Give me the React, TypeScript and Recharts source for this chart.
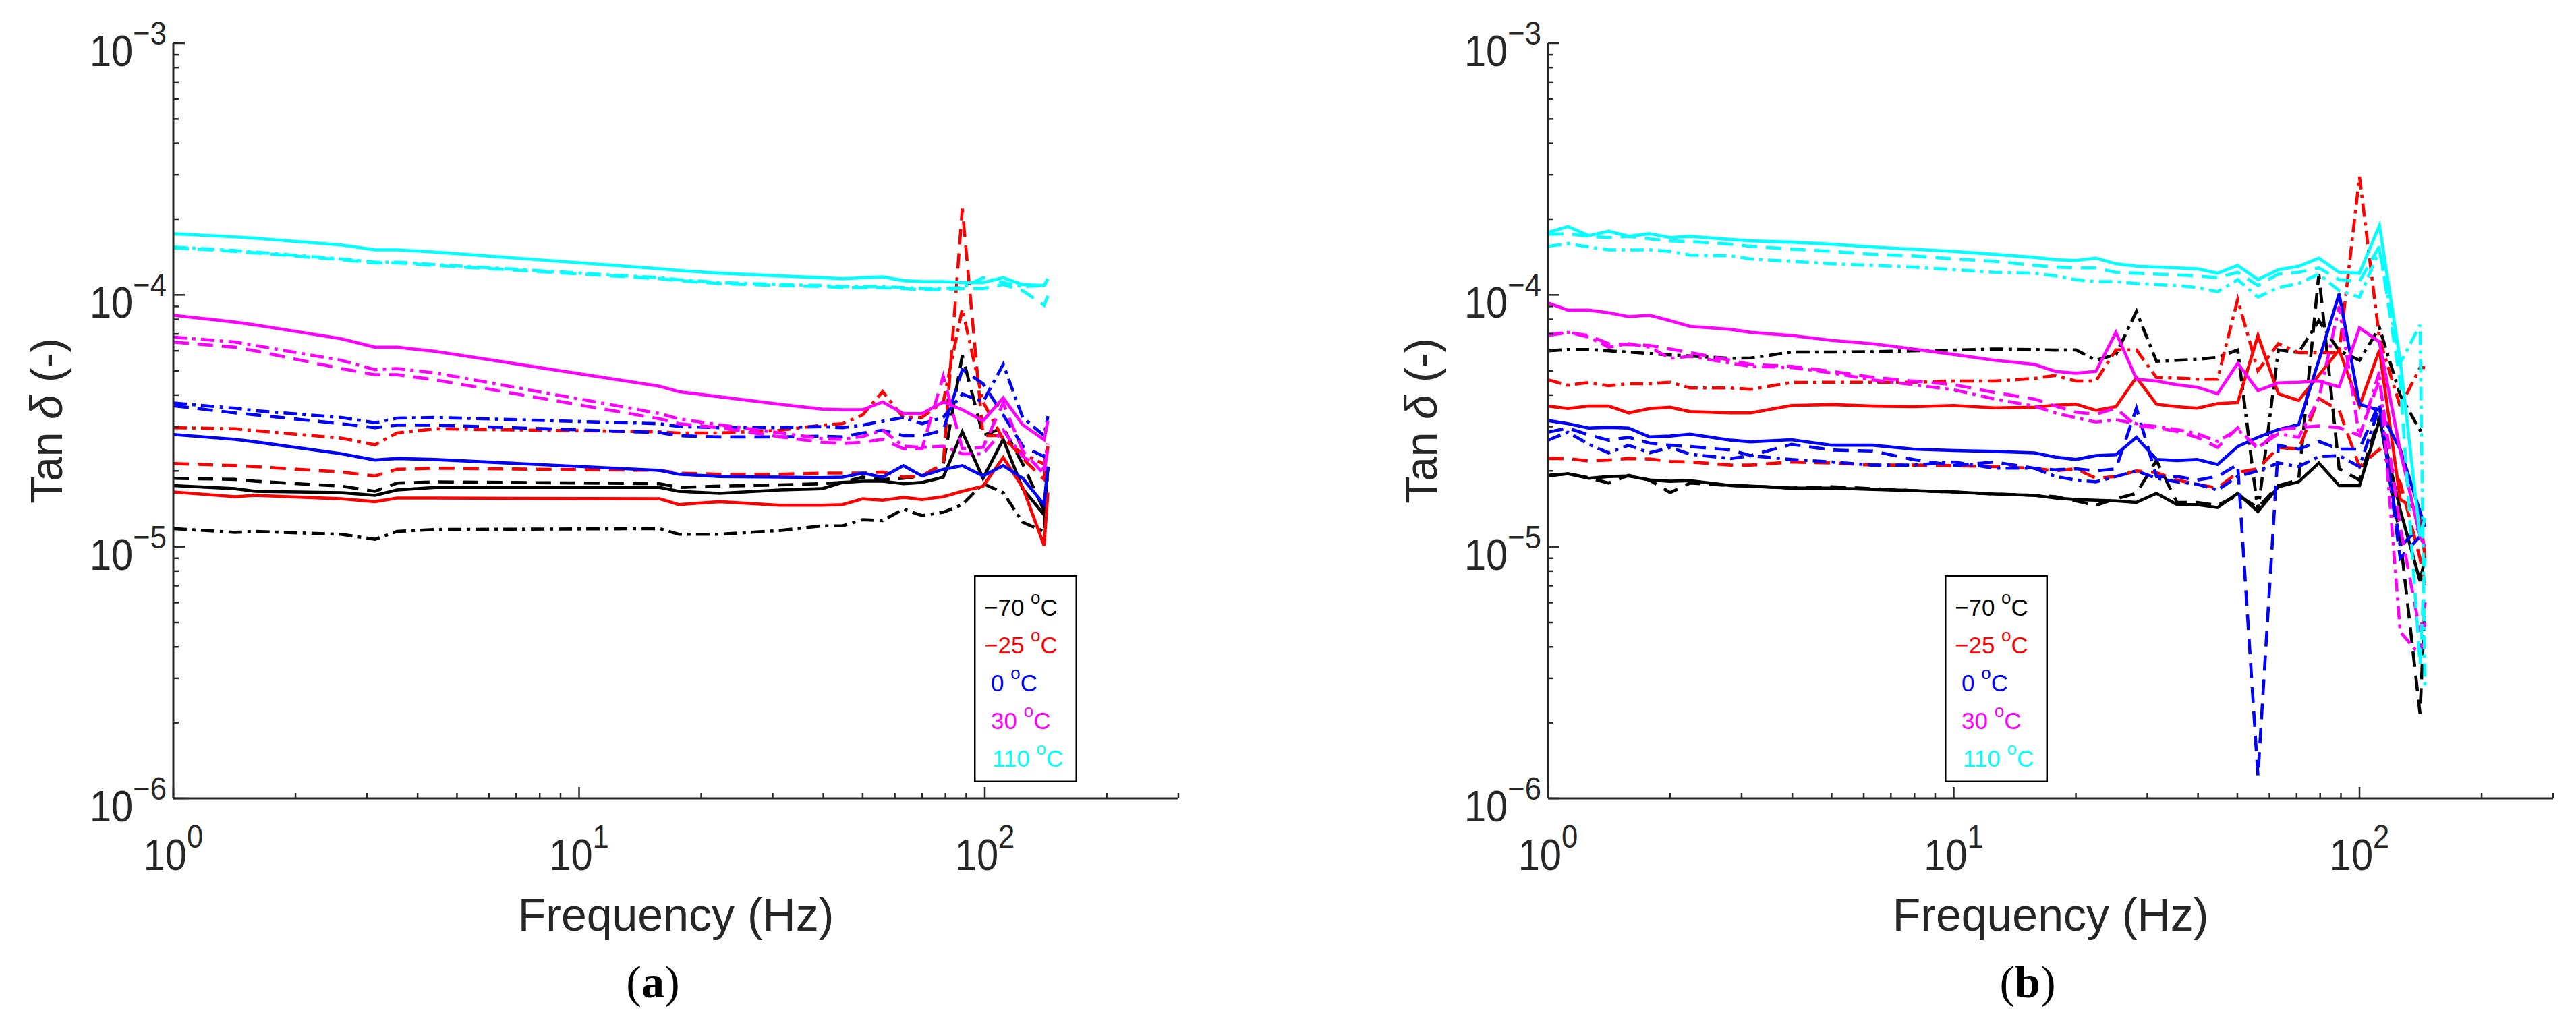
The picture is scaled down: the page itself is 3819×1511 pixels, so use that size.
import React from 'react'
import { LineChart, Line, XAxis, YAxis, Legend } from 'recharts'

// frequencies (Hz)
const freqA = [1, 1.42, 1.59, 2.59, 3.14, 3.56, 4.42, 15.8, 17.6, 22.2, 31.3, 39.7, 44.6, 50, 56, 63, 70, 79, 88, 99, 111, 124, 140, 143]
const freqB = [1, 1.12, 1.26, 1.41, 1.58, 1.78, 2, 2.24, 2.82, 3.16, 3.98, 5.01, 6.31, 7.94, 10, 12.6, 15.8, 17.8, 20, 22.4, 25.1, 28.2, 31.6, 35.5, 39.8, 44.7, 50.1, 56.2, 63.1, 70.8, 79.4, 89.1, 100, 112, 126, 141, 145]

// panel (a) tan delta
const aBlackSolid = [1.75e-5, 1.7e-5, 1.66e-5, 1.64e-5, 1.6e-5, 1.68e-5, 1.72e-5, 1.72e-5, 1.66e-5, 1.63e-5, 1.68e-5, 1.7e-5, 1.8e-5, 1.82e-5, 1.82e-5, 1.78e-5, 1.8e-5, 1.89e-5, 2.86e-5, 1.87e-5, 2.67e-5, 1.7e-5, 1.34e-5, 2.08e-5]
const aBlackDash = [1.87e-5, 1.85e-5, 1.82e-5, 1.74e-5, 1.66e-5, 1.79e-5, 1.81e-5, 1.78e-5, 1.72e-5, 1.74e-5, 1.76e-5, 1.78e-5, 1.8e-5, 1.89e-5, 1.85e-5, 1.87e-5, 1.91e-5, 2.13e-5, 5.75e-5, 2.76e-5, 2.97e-5, 2.13e-5, 1.39e-5, 2.08e-5]
const aBlackDashDot = [1.18e-5, 1.14e-5, 1.15e-5, 1.12e-5, 1.07e-5, 1.15e-5, 1.17e-5, 1.18e-5, 1.12e-5, 1.12e-5, 1.16e-5, 1.21e-5, 1.21e-5, 1.28e-5, 1.27e-5, 1.41e-5, 1.33e-5, 1.37e-5, 1.47e-5, 1.78e-5, 1.64e-5, 1.25e-5, 1.15e-5, 2.08e-5]
const aRedSolid = [1.65e-5, 1.58e-5, 1.6e-5, 1.55e-5, 1.51e-5, 1.56e-5, 1.56e-5, 1.55e-5, 1.47e-5, 1.51e-5, 1.46e-5, 1.46e-5, 1.47e-5, 1.55e-5, 1.53e-5, 1.57e-5, 1.54e-5, 1.58e-5, 1.66e-5, 1.74e-5, 2.26e-5, 1.72e-5, 1.01e-5, 1.64e-5]
const aRedDash = [2.14e-5, 2.1e-5, 2.08e-5, 1.98e-5, 1.91e-5, 2.03e-5, 2.05e-5, 2.01e-5, 1.96e-5, 1.94e-5, 1.94e-5, 1.96e-5, 1.96e-5, 1.96e-5, 1.98e-5, 1.89e-5, 1.91e-5, 2.13e-5, 2.2e-4, 2.76e-5, 2.76e-5, 2.24e-5, 1.85e-5, 2.51e-5]
const aRedDashDot = [2.97e-5, 2.94e-5, 2.89e-5, 2.7e-5, 2.54e-5, 2.83e-5, 2.94e-5, 2.86e-5, 2.83e-5, 2.83e-5, 2.9e-5, 3.04e-5, 3.08e-5, 3.34e-5, 4.13e-5, 3.26e-5, 3.26e-5, 3.76e-5, 8.8e-5, 3.76e-5, 2.67e-5, 2.34e-5, 2.13e-5, 2.54e-5]
const aBlueSolid = [2.79e-5, 2.67e-5, 2.61e-5, 2.34e-5, 2.21e-5, 2.24e-5, 2.22e-5, 2.01e-5, 1.94e-5, 1.9e-5, 1.89e-5, 1.88e-5, 1.89e-5, 1.96e-5, 1.89e-5, 2.1e-5, 1.91e-5, 2.03e-5, 2.1e-5, 1.91e-5, 2.1e-5, 1.87e-5, 1.47e-5, 2.08e-5]
const aBlueDash = [3.63e-5, 3.4e-5, 3.34e-5, 3.08e-5, 2.97e-5, 3.04e-5, 3.04e-5, 2.84e-5, 2.76e-5, 2.73e-5, 2.73e-5, 2.75e-5, 2.73e-5, 2.83e-5, 2.9e-5, 2.76e-5, 2.76e-5, 2.9e-5, 5.05e-5, 4.44e-5, 3.34e-5, 2.51e-5, 2.28e-5, 2.51e-5]
const aBlueDashDot = [3.72e-5, 3.55e-5, 3.47e-5, 3.26e-5, 3.11e-5, 3.24e-5, 3.26e-5, 3.08e-5, 3.0e-5, 2.97e-5, 2.97e-5, 3.0e-5, 2.97e-5, 3.04e-5, 3.15e-5, 3.26e-5, 3.08e-5, 3.26e-5, 4.04e-5, 3.76e-5, 5.3e-5, 3.26e-5, 2.76e-5, 3.3e-5]
const aMagentaSolid = [8.3e-5, 7.8e-5, 7.6e-5, 6.7e-5, 6.2e-5, 6.2e-5, 5.97e-5, 4.34e-5, 4.13e-5, 3.94e-5, 3.68e-5, 3.52e-5, 3.5e-5, 3.5e-5, 3.76e-5, 3.38e-5, 3.38e-5, 3.76e-5, 3.5e-5, 3.16e-5, 3.9e-5, 3.05e-5, 2.66e-5, 3.16e-5]
const aMagentaDash = [6.5e-5, 6.2e-5, 6.0e-5, 5.1e-5, 4.82e-5, 4.82e-5, 4.6e-5, 3.22e-5, 3.08e-5, 2.97e-5, 2.73e-5, 2.6e-5, 2.57e-5, 2.6e-5, 2.67e-5, 2.45e-5, 2.45e-5, 4.76e-5, 2.45e-5, 2.48e-5, 3.72e-5, 2.4e-5, 1.94e-5, 2.51e-5]
const aMagentaDashDot = [6.8e-5, 6.5e-5, 6.3e-5, 5.5e-5, 5.05e-5, 5.1e-5, 4.9e-5, 3.38e-5, 3.22e-5, 3.05e-5, 2.83e-5, 2.69e-5, 2.67e-5, 2.74e-5, 2.9e-5, 2.51e-5, 2.48e-5, 2.51e-5, 2.34e-5, 2.34e-5, 2.9e-5, 2.28e-5, 2.03e-5, 2.57e-5]
const aCyanSolid = [1.75e-4, 1.7e-4, 1.68e-4, 1.58e-4, 1.51e-4, 1.51e-4, 1.48e-4, 1.27e-4, 1.25e-4, 1.22e-4, 1.19e-4, 1.17e-4, 1.16e-4, 1.17e-4, 1.18e-4, 1.14e-4, 1.13e-4, 1.13e-4, 1.12e-4, 1.12e-4, 1.17e-4, 1.1e-4, 1.09e-4, 1.16e-4]
const aCyanDash = [1.54e-4, 1.49e-4, 1.47e-4, 1.38e-4, 1.34e-4, 1.34e-4, 1.31e-4, 1.16e-4, 1.14e-4, 1.11e-4, 1.09e-4, 1.08e-4, 1.07e-4, 1.07e-4, 1.07e-4, 1.06e-4, 1.05e-4, 1.05e-4, 1.06e-4, 1.06e-4, 1.1e-4, 1.04e-4, 9.1e-5, 9.9e-5]
const aCyanDashDot = [1.55e-4, 1.5e-4, 1.48e-4, 1.39e-4, 1.35e-4, 1.35e-4, 1.32e-4, 1.17e-4, 1.15e-4, 1.12e-4, 1.1e-4, 1.09e-4, 1.08e-4, 1.08e-4, 1.08e-4, 1.07e-4, 1.06e-4, 1.06e-4, 1.07e-4, 1.17e-4, 1.12e-4, 1.08e-4, 1.09e-4, 1.16e-4]

// panel (b) tan delta
const bBlackSolid = [1.91e-5, 1.95e-5, 1.87e-5, 1.9e-5, 1.91e-5, 1.84e-5, 1.82e-5, 1.83e-5, 1.75e-5, 1.74e-5, 1.71e-5, 1.71e-5, 1.69e-5, 1.67e-5, 1.65e-5, 1.62e-5, 1.6e-5, 1.56e-5, 1.54e-5, 1.53e-5, 1.52e-5, 1.5e-5, 1.63e-5, 1.47e-5, 1.47e-5, 1.43e-5, 1.63e-5, 1.38e-5, 1.73e-5, 1.81e-5, 2.15e-5, 1.75e-5, 1.75e-5, 3.2e-5, 1.4e-5, 7.3e-6, 9e-6]
const bBlackDash = [1.92e-5, 1.95e-5, 1.88e-5, 1.79e-5, 1.92e-5, 1.84e-5, 1.64e-5, 1.79e-5, 1.75e-5, 1.74e-5, 1.71e-5, 1.73e-5, 1.7e-5, 1.67e-5, 1.65e-5, 1.62e-5, 1.6e-5, 1.58e-5, 1.52e-5, 1.46e-5, 1.55e-5, 1.63e-5, 2.2e-5, 1.5e-5, 1.5e-5, 1.46e-5, 1.6e-5, 1.43e-5, 1.75e-5, 1.84e-5, 1.21e-4, 2.04e-5, 1.84e-5, 3.3e-5, 1.08e-5, 2.17e-6, 6e-6]
const bBlackDashDot = [6.0e-5, 6.07e-5, 6.07e-5, 6.0e-5, 5.93e-5, 5.85e-5, 5.78e-5, 5.72e-5, 5.6e-5, 5.62e-5, 5.93e-5, 5.93e-5, 5.95e-5, 6.0e-5, 6.04e-5, 6.1e-5, 6.07e-5, 6.04e-5, 6.05e-5, 5.5e-5, 5.8e-5, 8.6e-5, 5.45e-5, 5.5e-5, 5.55e-5, 5.65e-5, 6.05e-5, 1.38e-5, 6.05e-5, 5.9e-5, 7.9e-5, 6.0e-5, 5.5e-5, 7.4e-5, 4.0e-5, 2.9e-5, 3.0e-5]
const bRedSolid = [3.62e-5, 3.54e-5, 3.62e-5, 3.62e-5, 3.4e-5, 3.54e-5, 3.58e-5, 3.44e-5, 3.4e-5, 3.4e-5, 3.64e-5, 3.67e-5, 3.62e-5, 3.6e-5, 3.64e-5, 3.56e-5, 3.58e-5, 3.65e-5, 3.68e-5, 3.48e-5, 3.6e-5, 4.7e-5, 3.68e-5, 3.6e-5, 3.55e-5, 3.7e-5, 3.74e-5, 6.9e-5, 4.05e-5, 3.81e-5, 4.8e-5, 6.05e-5, 3.62e-5, 6.05e-5, 1.54e-5, 1.38e-5, 9e-6]
const bRedDash = [2.24e-5, 2.24e-5, 2.19e-5, 2.21e-5, 2.24e-5, 2.23e-5, 2.18e-5, 2.17e-5, 2.11e-5, 2.11e-5, 2.17e-5, 2.15e-5, 2.11e-5, 2.11e-5, 2.1e-5, 2.08e-5, 2.05e-5, 2.0e-5, 2.04e-5, 1.87e-5, 1.9e-5, 2.0e-5, 1.97e-5, 1.84e-5, 1.77e-5, 1.71e-5, 1.97e-5, 2.04e-5, 2.48e-5, 2.44e-5, 3.88e-5, 3.48e-5, 2.08e-5, 2.44e-5, 1.8e-5, 9e-6, 7e-6]
const bRedDashDot = [4.6e-5, 4.38e-5, 4.49e-5, 4.36e-5, 4.44e-5, 4.44e-5, 4.5e-5, 4.27e-5, 4.27e-5, 4.22e-5, 4.49e-5, 4.5e-5, 4.5e-5, 4.5e-5, 4.55e-5, 4.55e-5, 4.66e-5, 4.79e-5, 4.55e-5, 4.55e-5, 6.05e-5, 6.05e-5, 4.7e-5, 4.68e-5, 4.63e-5, 4.63e-5, 9.6e-5, 5.0e-5, 6.4e-5, 5.9e-5, 5.9e-5, 5.9e-5, 2.95e-4, 6.7e-5, 3.6e-5, 5.15e-5, 5.15e-5]
const bBlueSolid = [3.17e-5, 3.08e-5, 2.96e-5, 2.98e-5, 2.96e-5, 2.73e-5, 2.75e-5, 2.8e-5, 2.65e-5, 2.61e-5, 2.66e-5, 2.53e-5, 2.53e-5, 2.44e-5, 2.41e-5, 2.39e-5, 2.36e-5, 2.27e-5, 2.22e-5, 2.3e-5, 2.32e-5, 2.72e-5, 2.22e-5, 2.2e-5, 2.22e-5, 2.12e-5, 2.5e-5, 2.72e-5, 2.92e-5, 3.05e-5, 5.5e-5, 1.01e-4, 3.68e-5, 3.48e-5, 2.44e-5, 1.38e-5, 1.2e-5]
const bBlueDash = [2.85e-5, 2.96e-5, 2.78e-5, 2.65e-5, 2.72e-5, 2.58e-5, 2.53e-5, 2.5e-5, 2.42e-5, 2.3e-5, 2.55e-5, 2.42e-5, 2.4e-5, 2.22e-5, 2.1e-5, 2.17e-5, 2.05e-5, 2.02e-5, 2.04e-5, 2.0e-5, 2.04e-5, 3.55e-5, 1.9e-5, 1.9e-5, 1.84e-5, 1.9e-5, 2.12e-5, 1.23e-6, 2.53e-5, 2.44e-5, 2.62e-5, 2.44e-5, 2.44e-5, 3.74e-5, 9e-6, 1.1e-5, 1.2e-5]
const bBlueDashDot = [2.65e-5, 2.85e-5, 2.55e-5, 2.36e-5, 2.53e-5, 2.36e-5, 2.48e-5, 2.33e-5, 2.24e-5, 2.3e-5, 2.22e-5, 2.17e-5, 2.11e-5, 2.11e-5, 2.17e-5, 2.05e-5, 2.05e-5, 1.9e-5, 1.84e-5, 1.81e-5, 1.9e-5, 2.0e-5, 1.87e-5, 1.81e-5, 1.77e-5, 1.68e-5, 1.9e-5, 2.0e-5, 2.15e-5, 2.08e-5, 2.28e-5, 2.3e-5, 2.08e-5, 3.6e-5, 1.0e-5, 1.2e-5, 1.3e-5]
const bMagentaSolid = [9.3e-5, 8.7e-5, 8.7e-5, 8.5e-5, 8.2e-5, 8.3e-5, 7.9e-5, 7.5e-5, 7.3e-5, 7.1e-5, 6.9e-5, 6.6e-5, 6.4e-5, 6.1e-5, 5.8e-5, 5.5e-5, 5.3e-5, 4.97e-5, 4.89e-5, 4.97e-5, 7.1e-5, 4.63e-5, 4.55e-5, 4.4e-5, 4.3e-5, 4.05e-5, 5.35e-5, 4.17e-5, 4.47e-5, 4.5e-5, 4.55e-5, 4.31e-5, 7.4e-5, 6.5e-5, 2.4e-5, 1.1e-5, 1.0e-5]
const bMagentaDash = [6.9e-5, 7.1e-5, 6.9e-5, 6.4e-5, 6.35e-5, 6.3e-5, 6.1e-5, 5.9e-5, 5.5e-5, 5.3e-5, 5.2e-5, 4.97e-5, 4.71e-5, 4.55e-5, 4.4e-5, 4.1e-5, 3.86e-5, 3.62e-5, 3.42e-5, 3.36e-5, 3.55e-5, 3.02e-5, 2.97e-5, 2.87e-5, 2.72e-5, 2.48e-5, 2.97e-5, 2.44e-5, 2.92e-5, 2.97e-5, 3.02e-5, 2.97e-5, 2.77e-5, 4.6e-5, 1.2e-5, 4.6e-6, 6e-6]
const bMagentaDashDot = [6.98e-5, 7.1e-5, 6.8e-5, 6.2e-5, 6.4e-5, 6.2e-5, 5.6e-5, 5.7e-5, 5.36e-5, 5.2e-5, 5.15e-5, 4.9e-5, 4.6e-5, 4.4e-5, 4.2e-5, 3.86e-5, 3.62e-5, 3.4e-5, 3.25e-5, 3.13e-5, 3.19e-5, 3.08e-5, 3.0e-5, 2.92e-5, 2.81e-5, 2.62e-5, 2.92e-5, 2.48e-5, 2.81e-5, 2.72e-5, 3.88e-5, 9.0e-5, 2.72e-5, 4.97e-5, 4.6e-6, 3.7e-6, 5e-6]
const bCyanSolid = [1.77e-4, 1.87e-4, 1.72e-4, 1.79e-4, 1.71e-4, 1.75e-4, 1.69e-4, 1.71e-4, 1.66e-4, 1.64e-4, 1.62e-4, 1.59e-4, 1.55e-4, 1.52e-4, 1.49e-4, 1.45e-4, 1.41e-4, 1.38e-4, 1.37e-4, 1.4e-4, 1.33e-4, 1.3e-4, 1.29e-4, 1.28e-4, 1.27e-4, 1.22e-4, 1.31e-4, 1.15e-4, 1.26e-4, 1.3e-4, 1.4e-4, 1.23e-4, 1.22e-4, 1.89e-4, 5.5e-5, 1.1e-5, 1.3e-5]
const bCyanDash = [1.74e-4, 1.75e-4, 1.71e-4, 1.69e-4, 1.71e-4, 1.67e-4, 1.64e-4, 1.63e-4, 1.59e-4, 1.56e-4, 1.52e-4, 1.49e-4, 1.45e-4, 1.43e-4, 1.39e-4, 1.36e-4, 1.31e-4, 1.29e-4, 1.28e-4, 1.28e-4, 1.23e-4, 1.22e-4, 1.21e-4, 1.2e-4, 1.19e-4, 1.17e-4, 1.23e-4, 1.09e-4, 1.21e-4, 1.23e-4, 1.28e-4, 1.15e-4, 1.13e-4, 1.56e-4, 4.5e-5, 3.4e-6, 9e-6]
const bCyanDashDot = [1.56e-4, 1.6e-4, 1.55e-4, 1.51e-4, 1.51e-4, 1.51e-4, 1.49e-4, 1.44e-4, 1.43e-4, 1.39e-4, 1.36e-4, 1.33e-4, 1.31e-4, 1.29e-4, 1.26e-4, 1.23e-4, 1.22e-4, 1.19e-4, 1.15e-4, 1.13e-4, 1.13e-4, 1.11e-4, 1.1e-4, 1.09e-4, 1.07e-4, 1.03e-4, 1.15e-4, 9.8e-5, 1.07e-4, 1.11e-4, 1.21e-4, 1.04e-4, 9.8e-5, 1.5e-4, 5.35e-5, 7.6e-5, 2.8e-6]

// axes
const xTicks = [1, 2, 3, 4, 5, 6, 7, 8, 9, 10, 20, 30, 40, 50, 60, 70, 80, 90, 100, 200, 300]
const yTicks = [
  1e-6, 2e-6, 3e-6, 4e-6, 5e-6, 6e-6, 7e-6, 8e-6, 9e-6,
  1e-5, 2e-5, 3e-5, 4e-5, 5e-5, 6e-5, 7e-5, 8e-5, 9e-5,
  1e-4, 2e-4, 3e-4, 4e-4, 5e-4, 6e-4, 7e-4, 8e-4, 9e-4, 1e-3
]
const legendLabels = ['\u221270', '\u221225', '0', '30', '110']
const colors = ['#000000', '#ff0000', '#0000ff', '#ff00ff', '#00ffff']

const AXIS = '#262626'
const FONT = '"Liberation Sans", Arial, Helvetica, sans-serif'
const DASH: Record<string, string | undefined> = { solid: undefined, dash: '23 13', dashdot: '20 8 5 8' }

type Series = { key: string; values: number[]; color: string; style: string }

const seriesA: Series[] = [
  { key: 'ks', values: aBlackSolid, color: colors[0], style: 'solid' },
  { key: 'kd', values: aBlackDash, color: colors[0], style: 'dash' },
  { key: 'kdd', values: aBlackDashDot, color: colors[0], style: 'dashdot' },
  { key: 'rs', values: aRedSolid, color: colors[1], style: 'solid' },
  { key: 'rd', values: aRedDash, color: colors[1], style: 'dash' },
  { key: 'rdd', values: aRedDashDot, color: colors[1], style: 'dashdot' },
  { key: 'bs', values: aBlueSolid, color: colors[2], style: 'solid' },
  { key: 'bd', values: aBlueDash, color: colors[2], style: 'dash' },
  { key: 'bdd', values: aBlueDashDot, color: colors[2], style: 'dashdot' },
  { key: 'ms', values: aMagentaSolid, color: colors[3], style: 'solid' },
  { key: 'md', values: aMagentaDash, color: colors[3], style: 'dash' },
  { key: 'mdd', values: aMagentaDashDot, color: colors[3], style: 'dashdot' },
  { key: 'cs', values: aCyanSolid, color: colors[4], style: 'solid' },
  { key: 'cd', values: aCyanDash, color: colors[4], style: 'dash' },
  { key: 'cdd', values: aCyanDashDot, color: colors[4], style: 'dashdot' },
]

const seriesB: Series[] = [
  { key: 'ks', values: bBlackSolid, color: colors[0], style: 'solid' },
  { key: 'kd', values: bBlackDash, color: colors[0], style: 'dash' },
  { key: 'kdd', values: bBlackDashDot, color: colors[0], style: 'dashdot' },
  { key: 'rs', values: bRedSolid, color: colors[1], style: 'solid' },
  { key: 'rd', values: bRedDash, color: colors[1], style: 'dash' },
  { key: 'rdd', values: bRedDashDot, color: colors[1], style: 'dashdot' },
  { key: 'bs', values: bBlueSolid, color: colors[2], style: 'solid' },
  { key: 'bd', values: bBlueDash, color: colors[2], style: 'dash' },
  { key: 'bdd', values: bBlueDashDot, color: colors[2], style: 'dashdot' },
  { key: 'ms', values: bMagentaSolid, color: colors[3], style: 'solid' },
  { key: 'md', values: bMagentaDash, color: colors[3], style: 'dash' },
  { key: 'mdd', values: bMagentaDashDot, color: colors[3], style: 'dashdot' },
  { key: 'cs', values: bCyanSolid, color: colors[4], style: 'solid' },
  { key: 'cd', values: bCyanDash, color: colors[4], style: 'dash' },
  { key: 'cdd', values: bCyanDashDot, color: colors[4], style: 'dashdot' },
]

function buildRows(freq: number[], series: Series[]) {
  return freq.map((f, i) => {
    const row: any = { f }
    series.forEach((s) => {
      row[s.key] = s.values[i]
    })
    return row
  })
}

const isDecade = (v: number) => Math.abs(Math.log10(v) - Math.round(Math.log10(v))) < 1e-6
const expText = (v: number) => {
  const e = Math.round(Math.log10(v))
  return e < 0 ? '\u2212' + -e : String(e)
}

function XTick(props: any) {
  const { x, y, payload } = props
  const major = isDecade(payload.value)
  return (
    <g>
      <line x1={x} x2={x} y1={y} y2={y - (major ? 17 : 8)} stroke={AXIS} strokeWidth={2.5} />
      {major && (
        <g transform={`translate(${x},${y + 106}) scale(0.89,1)`}>
          <text textAnchor="middle" fontSize={65} fill={AXIS} fontFamily={FONT}>
            10<tspan dy={-33} fontSize={49}>{expText(payload.value)}</tspan>
          </text>
        </g>
      )}
    </g>
  )
}

function YTick(props: any) {
  const { x, y, payload } = props
  const major = isDecade(payload.value)
  return (
    <g>
      <line x1={x} x2={x + (major ? 17 : 8)} y1={y} y2={y} stroke={AXIS} strokeWidth={2.5} />
      {major && (
        <g transform={`translate(${x - 10},${y + 34}) scale(0.89,1)`}>
          <text textAnchor="end" fontSize={65} fill={AXIS} fontFamily={FONT}>
            10<tspan dy={-32} fontSize={49}>{expText(payload.value)}</tspan>
          </text>
        </g>
      )}
    </g>
  )
}

function LegendBox() {
  const indent = [15, 15, 25, 25, 27]
  return (
    <svg width={153} height={307} style={{ display: 'block' }}>
      <rect x={1.25} y={1.25} width={150.5} height={304.5} fill="#fff" stroke="#000" strokeWidth={2.5} />
      {legendLabels.map((t, i) => (
        <text key={t} x={indent[i]} y={60 + i * 56} fill={colors[i]} fontSize={35} fontFamily={FONT}>
          {t} <tspan dy={-18} fontSize={26}>o</tspan>
          <tspan dy={18}>C</tspan>
        </text>
      ))}
    </svg>
  )
}

function Panel({ width, plotLeft, plotRight, freq, series, legendLeft, caption }: any) {
  const top = 64
  const bottom = 1184
  const height = 1511
  const data = buildRows(freq, series)
  const mid = (plotLeft + plotRight) / 2
  return (
    <LineChart
      width={width}
      height={height}
      data={data}
      margin={{ top, left: plotLeft - 60, right: width - plotRight, bottom: height - bottom - 30 }}
    >
      <XAxis
        dataKey="f"
        type="number"
        scale="log"
        domain={[1, 300]}
        allowDataOverflow
        ticks={xTicks}
        interval={0}
        height={30}
        tickSize={0}
        tickMargin={0}
        tickLine={false}
        tick={<XTick />}
        axisLine={{ stroke: AXIS, strokeWidth: 3 }}
        label={{
          content: () => (
            <g>
              <text x={mid} y={1380} textAnchor="middle" fontSize={68} fill={AXIS} fontFamily={FONT}>
                Frequency (Hz)
              </text>
              <text x={mid - 34} y={1479} textAnchor="middle" fontSize={68} fill="#000" fontFamily='"Liberation Serif", "Times New Roman", serif'>
                (<tspan fontWeight="bold">{caption}</tspan>)
              </text>
            </g>
          ),
        }}
      />
      <YAxis
        type="number"
        scale="log"
        domain={[1e-6, 1e-3]}
        allowDataOverflow
        ticks={yTicks}
        interval={0}
        width={60}
        tickSize={0}
        tickMargin={0}
        tickLine={false}
        tick={<YTick />}
        axisLine={{ stroke: AXIS, strokeWidth: 3 }}
        label={{
          content: () => (
            <text
              x={plotLeft - 188}
              y={(top + bottom) / 2}
              transform={`rotate(-90 ${plotLeft - 188} ${(top + bottom) / 2})`}
              textAnchor="middle"
              dominantBaseline="central"
              fontSize={66}
              fill={AXIS}
              fontFamily={FONT}
            >
              Tan <tspan fontStyle="italic">{'\u03b4'}</tspan> (-)
            </text>
          ),
        }}
      />
      <Legend
        layout="vertical"
        align="center"
        verticalAlign="middle"
        content={() => <LegendBox />}
        wrapperStyle={{ left: legendLeft, top: 853, width: 153, height: 307 }}
      />
      {series.map((s: Series) => (
        <Line
          key={s.key}
          dataKey={s.key}
          type="linear"
          stroke={s.color}
          strokeWidth={4.6}
          strokeDasharray={DASH[s.style]}
          dot={false}
          activeDot={false}
          isAnimationActive={false}
          legendType="none"
        />
      ))}
    </LineChart>
  )
}

export default function App() {
  return (
    <div style={{ position: 'absolute', left: 0, top: 0, width: 3819, height: 1511, background: '#fff' }}>
      <div style={{ position: 'absolute', left: 0, top: 0 }}>
        <Panel width={1900} plotLeft={257} plotRight={1747} freq={freqA} series={seriesA} legendLeft={1444} caption="a" />
      </div>
      <div style={{ position: 'absolute', left: 1900, top: 0 }}>
        <Panel width={1919} plotLeft={395} plotRight={1885} freq={freqB} series={seriesB} legendLeft={983} caption="b" />
      </div>
    </div>
  )
}
